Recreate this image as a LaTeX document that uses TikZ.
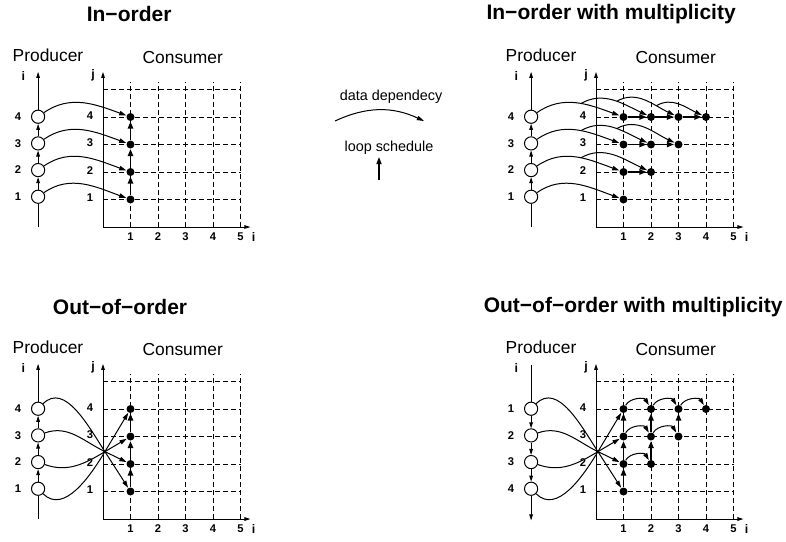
\documentclass[tikz,border=0pt]{standalone}
\usepackage{fontspec}
\setmainfont{Liberation Sans}
\usetikzlibrary{arrows.meta}

\tikzset{
  axis/.style={line width=0.45pt},
  axisarrow/.style={axis,-{Triangle[length=3pt,width=1.8pt]}},
  gridline/.style={line width=0.4pt,dash pattern=on 2.4pt off 1.6pt},
  dep/.style={line width=0.5pt,-{Triangle[length=3.6pt,width=2.2pt]}},
  sched/.style={line width=0.9pt,-{Triangle[length=3.6pt,width=2.6pt]}},
  prod/.style={circle,draw,line width=0.5pt,fill=white,inner sep=0pt,minimum size=6.6pt},
  dot/.style={circle,fill=black,inner sep=0pt,minimum size=4pt},
  num/.style={font=\fontsize{5.6}{6}\selectfont\bfseries,inner sep=0pt},
  axlab/.style={font=\fontsize{6.2}{7}\selectfont\bfseries,inner sep=0pt},
  plain/.style={font=\fontsize{8.7}{10}\selectfont,inner sep=0pt},
  legend/.style={font=\fontsize{7.2}{8}\selectfont,inner sep=0pt},
  paneltitle/.style={font=\fontsize{10.5}{12}\selectfont\bfseries,inner sep=0pt},
  panel/.style={x=13.75pt,y=13.75pt}
}

% axes, dashed grid and labels of one panel
\newcommand{\panelgrid}[1]{%
  \coordinate (#1o) at (0,0);
  \coordinate (#1jtop) at (0,5.64);
  \coordinate (#1iend) at (5.36,0);
  \foreach \m in {1,...,5} {
    \coordinate (#1gb\m) at (\m,0);
    \coordinate (#1gt\m) at (\m,5.27);
    \coordinate (#1gl\m) at (0,\m);
    \coordinate (#1gr\m) at (5,\m);
    \draw[gridline] (#1gb\m) -- (#1gt\m);
    \draw[gridline] (#1gl\m) -- (#1gr\m);
    \node[num] (#1cl\m) at (\m,-0.36) {\m};
  }
  \draw[axisarrow] (#1o) -- (#1jtop);
  \draw[axisarrow] (#1o) -- (#1iend);
  \foreach \j in {1,...,4}
    \node[num] (#1rl\j) at (-0.47,\j+0.05) {\j};
  \node[axlab] (#1il) at (5.48,-0.36) {i};
  \node[axlab] (#1jl) at (-0.36,5.5) {j};
  \node[axlab] (#1pil) at (-2.9,5.5) {i};
  \node[plain] (#1prod) at (-2.0,6.25) {Producer};
  \node[plain] (#1cons) at (2.9,6.18) {Consumer};
}

% producer axis going up
\newcommand{\producerup}[1]{%
  \coordinate (#1pbot) at (-2.36,0);
  \coordinate (#1ptop) at (-2.36,5.64);
  \foreach \k/\y in {1/1.1,2/2.07,3/3.04,4/4.01} {
    \node[prod] (#1p\k) at (-2.36,\y) {};
    \node[num] (#1pl\k) at (-3.09,\y) {\k};
  }
  \draw[axis] (#1pbot) -- (#1p1);
  \draw[axisarrow] (#1p1) -- (#1p2);
  \draw[axisarrow] (#1p2) -- (#1p3);
  \draw[axisarrow] (#1p3) -- (#1p4);
  \draw[axisarrow] (#1p4) -- (#1ptop);
}

\begin{document}
\begin{tikzpicture}[x=0.5pt,y=0.5pt]
  \useasboundingbox (0,0) rectangle (786,-541);

  % legend
  \node[legend] (ldep) at (391,-97) {data dependecy};
  \coordinate (ldeps) at (335,-121);
  \coordinate (ldepe) at (424,-121);
  \draw[dep] (ldeps) to[out=25,in=155] (ldepe);
  \node[legend] (lsch) at (389,-148) {loop schedule};
  \coordinate (lschs) at (379,-180);
  \coordinate (lsche) at (379,-157);
  \draw[sched,line width=0.6pt] (lschs) -- (lsche);

  % In-order
  \begin{scope}[xshift=51.5pt,yshift=-113.5pt,panel]
    \node[paneltitle] (atitle) at (0.95,7.75) {In−order};
    \panelgrid{a}
    \producerup{a}
    \foreach \j in {1,...,4}
      \node[dot] (ad1\j) at (1,\j) {};
    \draw[sched] (ad11) -- (ad12);
    \draw[sched] (ad12) -- (ad13);
    \draw[sched] (ad13) -- (ad14);
    \foreach \k in {1,...,4}
      \draw[dep] (ap\k) to[out=35,in=160] (ad1\k);
  \end{scope}

  % In-order with multiplicity
  \begin{scope}[xshift=298pt,yshift=-113.5pt,panel]
    \node[paneltitle] (btitle) at (0.55,7.75) {In−order with multiplicity};
    \panelgrid{b}
    \producerup{b}
    \foreach \m/\j in {1/1,1/2,2/2,1/3,2/3,3/3,1/4,2/4,3/4,4/4}
      \node[dot] (bd\m\j) at (\m,\j) {};
    \draw[sched] (bd12) -- (bd22);
    \draw[sched] (bd13) -- (bd23);
    \draw[sched] (bd23) -- (bd33);
    \draw[sched] (bd14) -- (bd24);
    \draw[sched] (bd24) -- (bd34);
    \draw[sched] (bd34) -- (bd44);
    \draw[dep] (bp1) to[out=35,in=160] (bd11);
    \draw[dep] (bp2) to[out=35,in=160] coordinate[pos=0.55] (bs12) (bd12);
    \draw[dep] (bs12) to[out=30,in=155] (bd22);
    \draw[dep] (bp3) to[out=35,in=160] coordinate[pos=0.55] (bs13) (bd13);
    \draw[dep] (bs13) to[out=30,in=155] coordinate[pos=0.55] (bs23) (bd23);
    \draw[dep] (bs23) to[out=30,in=155] (bd33);
    \draw[dep] (bp4) to[out=35,in=160] coordinate[pos=0.55] (bs14) (bd14);
    \draw[dep] (bs14) to[out=30,in=155] coordinate[pos=0.55] (bs24) (bd24);
    \draw[dep] (bs24) to[out=30,in=155] coordinate[pos=0.7] (bs34) (bd34);
    \draw[dep] (bs34) to[out=30,in=155] (bd44);
  \end{scope}

  % Out-of-order
  \begin{scope}[xshift=51.5pt,yshift=-259.5pt,panel]
    \node[paneltitle] (ctitle) at (0.62,7.71) {Out−of−order};
    \panelgrid{c}
    \producerup{c}
    \foreach \j in {1,...,4}
      \node[dot] (cd1\j) at (1,\j) {};
    \draw[sched] (cd11) -- (cd12);
    \draw[sched] (cd12) -- (cd13);
    \draw[sched] (cd13) -- (cd14);
    \coordinate (cx) at (0.07,2.45);
    \draw[dep] (cp4) to[out=45,in=123] (cx) -- (cd11);
    \draw[dep] (cp3) to[out=20,in=154] (cx) -- (cd12);
    \draw[dep] (cp2) to[out=-20,in=-149] (cx) -- (cd13);
    \draw[dep] (cp1) to[out=-45,in=-121] (cx) -- (cd14);
  \end{scope}

  % Out-of-order with multiplicity
  \begin{scope}[xshift=298pt,yshift=-259.5pt,panel]
    \node[paneltitle] (dtitle) at (1.35,7.71) {Out−of−order with multiplicity};
    \panelgrid{d}
    \coordinate (dptop) at (-2.36,5.6);
    \coordinate (dpbot) at (-2.36,-0.05);
    \foreach \k/\y in {1/4.01,2/3.04,3/2.07,4/1.1} {
      \node[prod] (dp\k) at (-2.36,\y) {};
      \node[num] (dpl\k) at (-3.09,\y) {\k};
    }
    \draw[axis] (dptop) -- (dp1);
    \draw[axisarrow] (dp1) -- (dp2);
    \draw[axisarrow] (dp2) -- (dp3);
    \draw[axisarrow] (dp3) -- (dp4);
    \draw[axisarrow] (dp4) -- (dpbot);
    \foreach \m/\j in {1/1,1/2,2/2,1/3,2/3,3/3,1/4,2/4,3/4,4/4}
      \node[dot] (dd\m\j) at (\m,\j) {};
    \draw[sched] (dd11) -- (dd12);
    \draw[sched] (dd12) -- (dd13);
    \draw[sched] (dd13) -- (dd14);
    \draw[sched] (dd22) -- (dd23);
    \draw[sched] (dd23) -- (dd24);
    \draw[sched] (dd33) -- (dd34);
    \draw[dep] (dd12) to[out=60,in=120] (dd22);
    \draw[dep] (dd13) to[out=60,in=120] (dd23);
    \draw[dep] (dd23) to[out=60,in=120] (dd33);
    \draw[dep] (dd14) to[out=60,in=120] (dd24);
    \draw[dep] (dd24) to[out=60,in=120] (dd34);
    \draw[dep] (dd34) to[out=60,in=120] (dd44);
    \coordinate (dx) at (0.07,2.45);
    \draw[dep] (dp1) to[out=45,in=123] (dx) -- (dd11);
    \draw[dep] (dp2) to[out=20,in=154] (dx) -- (dd12);
    \draw[dep] (dp3) to[out=-20,in=-149] (dx) -- (dd13);
    \draw[dep] (dp4) to[out=-45,in=-121] (dx) -- (dd14);
  \end{scope}
\end{tikzpicture}
\end{document}
